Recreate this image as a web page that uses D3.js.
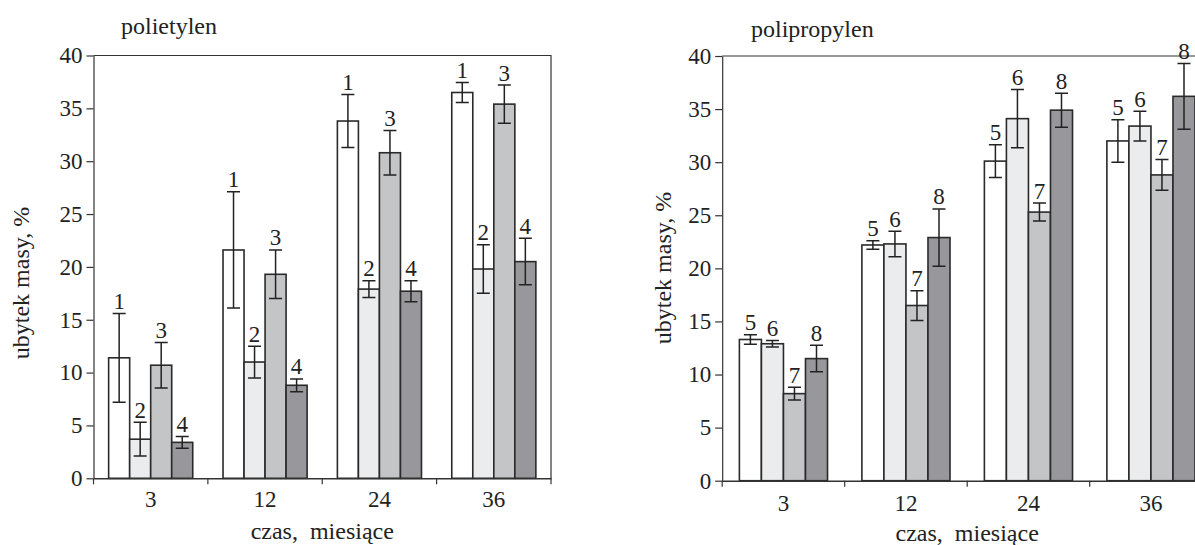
<!DOCTYPE html>
<html>
<head>
<meta charset="utf-8">
<script src="https://cdn.jsdelivr.net/npm/d3@7/dist/d3.min.js"></script>
<style>
  body{margin:0;background:#fff;}
  svg{display:block;font-family:"Liberation Serif","Times New Roman",serif;}
  text{fill:#222;}
</style>
</head>
<body>
<svg id="chart" width="1195" height="545"></svg>
<script>
// ---------- DATA ----------------------------------------------------------
const months = ['3','12','24','36'];

const peSeries = ['1','2','3','4'];
const peValues = [
  [11.4, 21.6, 33.8, 36.5],
  [ 3.7, 11.0, 17.9, 19.8],
  [10.7, 19.3, 30.8, 35.4],
  [ 3.4,  8.8, 17.7, 20.5]
];
const peErrors = [
  [4.2, 5.5, 2.5, 0.95],
  [1.6, 1.5, 0.8, 2.3],
  [2.15,2.3, 2.1, 1.8],
  [0.55,0.6, 1.0, 2.2]
];

const ppSeries = ['5','6','7','8'];
const ppValues = [
  [13.3, 22.2, 30.1, 32.0],
  [12.9, 22.3, 34.1, 33.4],
  [ 8.2, 16.5, 25.3, 28.8],
  [11.5, 22.9, 34.9, 36.2]
];
const ppErrors = [
  [0.45, 0.4, 1.55, 2.0],
  [0.3,  1.2, 2.75, 1.4],
  [0.6,  1.4, 0.85, 1.45],
  [1.25, 2.7, 1.6,  3.1]
];

const yTicks = [0,5,10,15,20,25,30,35,40];
const FILLS = ['#ffffff','#ebecee','#c4c5c7','#98979b'];
const INK = '#222';

// ---------- PANELS --------------------------------------------------------
const svg = d3.select('#chart');

drawPanel({
  title:'polietylen', series:peSeries, values:peValues, errors:peErrors,
  left:93.5, top:55.5, width:457.5, height:422.8, pad:0.72,
  titleX:121, titleY:34, yTitleX:29, yTitleY:283,
  xLabPad:12.5, xTitleY:539
});
drawPanel({
  title:'polipropylen', series:ppSeries, values:ppValues, errors:ppErrors,
  left:722.2, top:56, width:490, height:424.7, pad:0.78,
  titleX:751, titleY:36.5, yTitleX:671, yTitleY:268,
  xLabPad:14, xTitleY:541
});

function drawPanel(p){
  const g = svg.append('g').attr('transform',`translate(${p.left},${p.top})`);
  const IW = p.width, IH = p.height;

  const x0 = d3.scaleBand().domain(months).range([0,IW]).padding(0);
  const x1 = d3.scaleBand().domain(p.series).range([0,x0.bandwidth()])
               .paddingInner(0).paddingOuter(p.pad);
  const y  = d3.scaleLinear().domain([0,40]).range([IH,0]);

  // flat rows
  const rows = [];
  p.series.forEach((s,i)=>months.forEach((m,j)=>rows.push({
    s, i, m, v:p.values[i][j], e:p.errors[i][j]
  })));

  // frame (top + right)
  g.append('path')
    .attr('d',`M0,0H${IW}V${IH}`)
    .attr('fill','none').attr('stroke','#333').attr('stroke-width',1.2);

  // bars
  const bars = g.append('g');
  bars.selectAll('rect').data(rows).join('rect')
    .attr('x',d=>x0(d.m)+x1(d.s))
    .attr('y',d=>y(d.v))
    .attr('width',x1.bandwidth())
    .attr('height',d=>y(0)-y(d.v))
    .attr('fill',d=>FILLS[d.i])
    .attr('stroke','#2a2a2a').attr('stroke-width',1.6);

  // error bars
  const cap = 6.5;
  const eb = g.append('g').attr('stroke',INK).attr('stroke-width',1.5).attr('fill','none');
  eb.selectAll('path').data(rows).join('path')
    .attr('d',d=>{
      const cx = x0(d.m)+x1(d.s)+x1.bandwidth()/2;
      const t = y(d.v+d.e), b = y(d.v-d.e);
      return `M${cx-cap},${t}H${cx+cap}M${cx},${t}V${b}M${cx-cap},${b}H${cx+cap}`;
    });

  // series labels
  g.append('g').selectAll('text').data(rows).join('text')
    .attr('x',d=>x0(d.m)+x1(d.s)+x1.bandwidth()/2)
    .attr('y',d=>y(d.v+d.e)-4.5)
    .attr('text-anchor','middle')
    .style('font-size','23px')
    .text(d=>d.s);

  // y axis
  const ya = g.append('g')
    .call(d3.axisLeft(y).tickValues(yTicks).tickSize(7).tickSizeOuter(0).tickPadding(4));
  ya.select('.domain').attr('stroke','#333').attr('stroke-width',1.2);
  ya.selectAll('.tick line').attr('stroke','#333').attr('stroke-width',1.2);
  ya.selectAll('.tick text').attr('fill',INK).style('font-size','23px')
    .style('font-family','"Liberation Serif","Times New Roman",serif');

  // x axis: labels at band centres, dividers at band edges
  const xa = g.append('g').attr('transform',`translate(0,${IH})`)
    .call(d3.axisBottom(x0).tickSize(0).tickPadding(p.xLabPad).tickSizeOuter(0));
  xa.select('.domain').attr('stroke','#333').attr('stroke-width',1.4);
  xa.selectAll('.tick text').attr('fill',INK).style('font-size','23px')
    .style('font-family','"Liberation Serif","Times New Roman",serif');
  xa.append('g').selectAll('line').data(months.concat([null])).join('line')
    .attr('x1',d=>d===null?IW:x0(d)).attr('x2',d=>d===null?IW:x0(d))
    .attr('y1',0).attr('y2',6)
    .attr('stroke','#333').attr('stroke-width',1.2);

  // titles
  svg.append('text').attr('x',p.titleX).attr('y',p.titleY)
    .style('font-size','24px').text(p.title);
  svg.append('text')
    .attr('transform',`translate(${p.yTitleX},${p.yTitleY}) rotate(-90)`)
    .attr('text-anchor','middle').style('font-size','24px')
    .text('ubytek masy, %');
  svg.append('text')
    .attr('x',p.left+IW/2).attr('y',p.xTitleY)
    .attr('text-anchor','middle').style('font-size','24px')
    .style('white-space','pre')
    .text('czas,\u00a0\u00a0miesiące');
}
</script>
</body>
</html>
